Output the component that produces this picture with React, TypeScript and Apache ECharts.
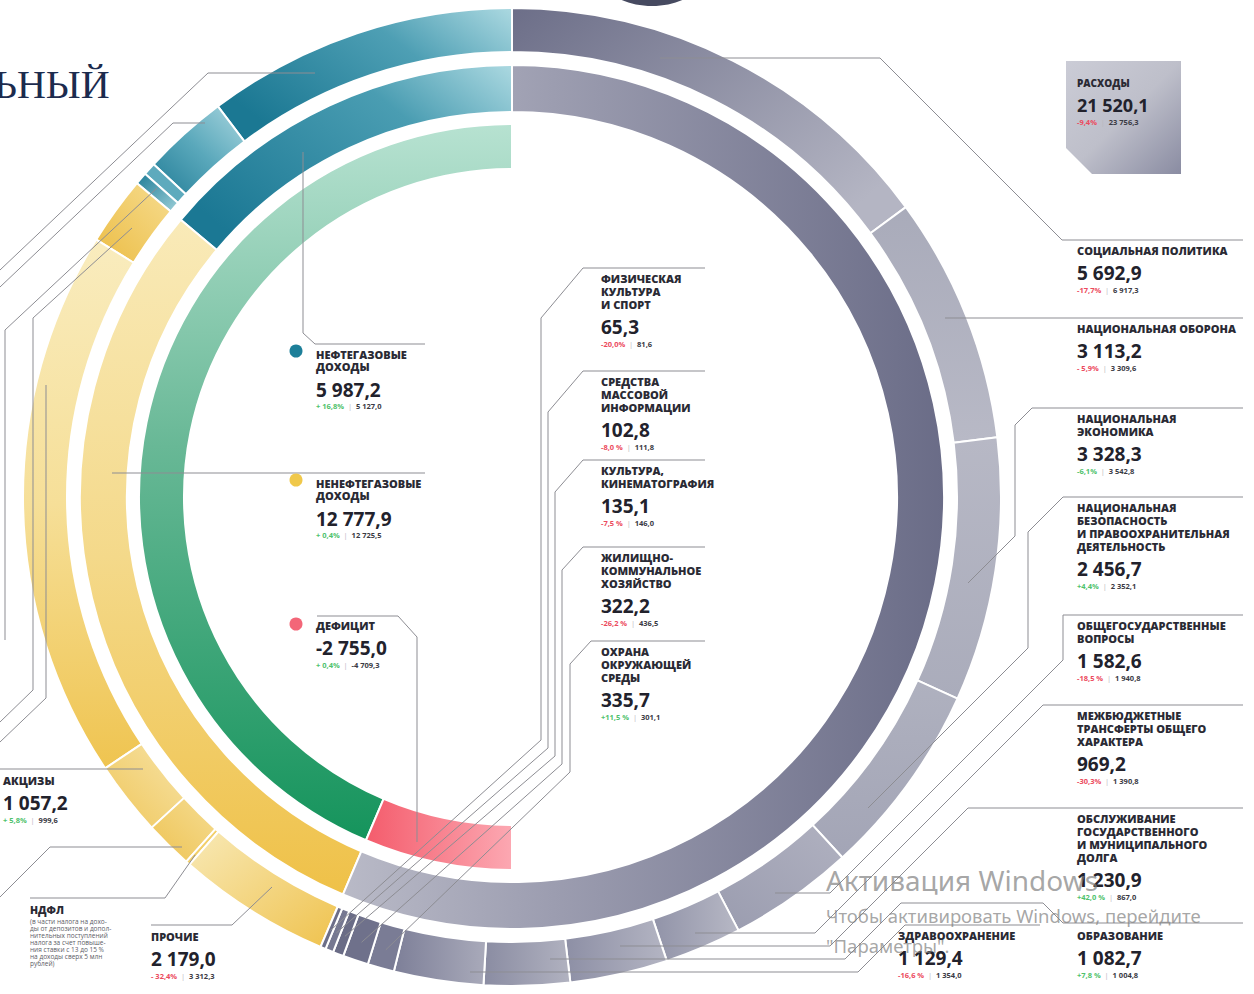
import React, { useEffect, useRef } from 'react';
import * as echarts from 'echarts';

// ---------------- DATA ----------------
const revenueNames = ['Нефтегазовые доходы', 'Ненефтегазовые доходы'];
const revenueValues = [5987.2, 12777.9];
const revenueChange = ['+ 16,8%', '+ 0,4%'];
const revenuePrev = ['5 127,0', '12 725,5'];

const deficitName = 'Дефицит';
const deficitValue = 2755.0;
const deficitChange = '+ 0,4%';
const deficitPrev = '-4 709,3';

const expensesName = 'Расходы';
const expensesTotal = 21520.1;
const expensesChange = '-9,4%';
const expensesPrev = '23 756,3';

// oil & gas revenue sub-items (outer ring)
const oilGasPartNames = ['Нефтегазовые 1', 'Нефтегазовые 2', 'Нефтегазовые 3', 'Нефтегазовые 4'];
const oilGasPartValues = [4420, 1215, 180, 172.2];

// non-oil revenue sub-items (outer ring)
const nonOilPartNames = ['Ненефтегазовые 1', 'Ненефтегазовые 2', 'Акцизы', 'Ненефтегазовые 4', 'НДФЛ', 'Прочие'];
const nonOilPartValues = [975, 7826.7, 1057.2, 680, 60.0, 2179.0];
const nonOilPartChange = ['', '', '+ 5,8%', '', '', '- 32,4%'];
const nonOilPartPrev = ['', '', '999,6', '', '', '3 312,3'];

const expenseNames = [
  'Социальная политика',
  'Национальная оборона',
  'Национальная экономика',
  'Национальная безопасность и правоохранительная деятельность',
  'Общегосударственные вопросы',
  'Межбюджетные трансферты общего характера',
  'Обслуживание государственного и муниципального долга',
  'Образование',
  'Здравоохранение',
  'Охрана окружающей среды',
  'Жилищно-коммунальное хозяйство',
  'Культура, кинематография',
  'Средства массовой информации',
  'Физическая культура и спорт',
];
const expenseValues = [5692.9, 3113.2, 3328.3, 2456.7, 1582.6, 969.2, 1230.9, 1082.7, 1129.4, 335.7, 322.2, 135.1, 102.8, 65.3];
const expenseChange = ['-17,7%', '- 5,9%', '-6,1%', '+4,4%', '-18,5 %', '-30,3%', '+42,0 %', '+7,8 %', '-16,6 %', '+11,5 %', '-26,2 %', '-7,5 %', '-8,0 %', '-20,0%'];
const expensePrev = ['6 917,3', '3 309,6', '3 542,8', '2 352,1', '1 940,8', '1 390,8', '867,0', '1 004,8', '1 354,0', '301,1', '436,5', '146,0', '111,8', '81,6'];

// ---------------- LAYOUT / STYLE ----------------
const CX = 512;
const CY = 497;
const R_IN = [328, 373];
const R_MID = [385, 432];
const R_OUT = [445, 489];
const FONT = '"Open Sans", "Noto Sans", Lato, sans-serif';
const RED = '#ec4a5d';
const GREEN = '#4fc26c';
const LINE = '#8d8d93';
const TITLE = '#2a2a34';
const greenOverride = new Set(['Национальная экономика']);

const sum = (a: number[]) => a.reduce((s, v) => s + v, 0);
const fmt = (v: number) => {
  const neg = v < 0;
  const [i, d] = Math.abs(v).toFixed(1).split('.');
  return (neg ? '-' : '') + i.replace(/\B(?=(\d{3})+(?!\d))/g, ' ') + ',' + d;
};
const grad = (x: number, y: number, x2: number, y2: number, stops: [number, string][]) =>
  new echarts.graphic.LinearGradient(x, y, x2, y2, stops.map(([offset, color]) => ({ offset, color })));

const revTotal = sum(revenueValues);
const revSpan = (180 * revTotal) / expensesTotal; // degrees used by revenues
const expSpan = 360 - revSpan;

function expAnchor(i: number, r: number, frac = 0.5): number[] {
  const tot = sum(expenseValues);
  const cum = sum(expenseValues.slice(0, i)) + frac * expenseValues[i];
  const a = ((cum / tot) * expSpan * Math.PI) / 180;
  return [CX + r * Math.sin(a), CY - r * Math.cos(a)];
}
function revOuterAnchor(i: number, r: number, frac = 0.5): number[] {
  const vals = [...oilGasPartValues, ...nonOilPartValues];
  const tot = sum(vals);
  const cum = sum(vals.slice(0, i)) + frac * vals[i];
  const a = ((cum / tot) * revSpan * Math.PI) / 180;
  return [CX - r * Math.sin(a), CY - r * Math.cos(a)];
}

function buildOption() {
  const pieBase: any = {
    type: 'pie',
    center: [CX, CY],
    silent: true,
    label: { show: false },
    labelLine: { show: false },
    emphasis: { disabled: true },
    avoidLabelOverlap: false,
    minAngle: 0,
    animation: false,
  };

  const tealMid = grad(1, 0, 0, 0.7, [[0, '#acd9e1'], [0.35, '#4a9db2'], [1, '#1b7894']]);
  const yellowMid = grad(0, 0, 0, 1, [[0, '#f9eab8'], [0.5, '#f4d98a'], [1, '#efc148']]);
  const greyMid = grad(0, 0, 1, 0, [[0, '#b9bac7'], [0.35, '#9c9db0'], [1, '#6a6c87']]);
  const greenIn = grad(0, 0, 0, 1, [[0, '#b7e2d1'], [0.45, '#68b896'], [1, '#15945c']]);
  const pinkIn = grad(1, 0, 0, 0, [[0, '#fca8b2'], [1, '#f45c6c']]);

  const oilColors = [
    grad(1, 0, 0, 0.6, [[0, '#acd9e1'], [0.4, '#4e9fb4'], [1, '#1b7893']]),
    grad(1, 0, 0, 1, [[0, '#a9d6df'], [0.5, '#5aa8bb'], [1, '#227d97']]),
    '#5eaabd',
    grad(0, 0, 1, 1, [[0, '#1e7c97'], [1, '#9ccfd8']]),
  ];
  const nonOilColors = [
    grad(1, 0, 0, 1, [[0, '#f6dc8f'], [1, '#ecbd45']]),
    grad(0, 0, 0, 1, [[0, '#f9ecbe'], [0.5, '#f6df98'], [1, '#efc450']]),
    grad(1, 0, 0, 1, [[0, '#f7e3a6'], [1, '#efc65a']]),
    grad(1, 0, 0, 1, [[0, '#f5dc92'], [1, '#eec353']]),
    '#f2cf6a',
    grad(0, 0, 1, 1, [[0, '#f8e9b6'], [1, '#efc24d']]),
  ];
  const expColors: any[] = [
    grad(0, 0, 1, 0.7, [[0, '#6c6e88'], [1, '#b4b5c3']]),
    grad(0, 0, 0, 1, [[0, '#a9abba'], [1, '#b8b9c6']]),
    grad(0, 0, 0, 1, [[0, '#b7b8c5'], [1, '#aaacbb']]),
    grad(0, 0, 0, 1, [[0, '#afb1bf'], [1, '#a3a5b6']]),
    grad(1, 0, 0, 1, [[0, '#b0b1c0'], [1, '#9a9caf']]),
    grad(0, 0, 1, 0, [[0, '#9193a8'], [1, '#b7b8c5']]),
    grad(0, 0, 1, 0, [[0, '#8d8fa5'], [1, '#b4b5c3']]),
    grad(0, 0, 1, 0, [[0, '#8a8ca2'], [1, '#b1b2c0']]),
    grad(0, 0, 1, 0, [[0, '#7d7f98'], [1, '#a9aaba']]),
    '#7a7c95',
    '#6f718b',
    '#6a6c86',
    '#767891',
    '#6c6e88',
  ];

  const series: any[] = [
    {
      ...pieBase,
      name: 'inner',
      radius: R_IN,
      startAngle: 90,
      endAngle: 270,
      clockwise: false,
      itemStyle: { borderColor: '#fff', borderWidth: 2 },
      data: [
        { name: 'Доходы', value: revTotal, itemStyle: { color: greenIn } },
        { name: deficitName, value: deficitValue, itemStyle: { color: pinkIn } },
      ],
    },
    {
      ...pieBase,
      name: 'midRev',
      radius: R_MID,
      startAngle: 90,
      endAngle: 90 + revSpan,
      clockwise: false,
      itemStyle: { borderColor: '#fff', borderWidth: 2 },
      data: revenueNames.map((n, i) => ({ name: n, value: revenueValues[i], itemStyle: { color: i === 0 ? tealMid : yellowMid } })),
    },
    {
      ...pieBase,
      name: 'midExp',
      radius: R_MID,
      startAngle: 90,
      endAngle: 90 + revSpan - 360,
      clockwise: true,
      itemStyle: { borderColor: '#fff', borderWidth: 2 },
      data: [{ name: expensesName, value: expensesTotal, itemStyle: { color: greyMid } }],
    },
    {
      ...pieBase,
      name: 'outRev',
      radius: R_OUT,
      startAngle: 90,
      endAngle: 90 + revSpan,
      clockwise: false,
      itemStyle: { borderColor: '#fff', borderWidth: 2 },
      data: [
        ...oilGasPartNames.map((n, i) => ({ name: n, value: oilGasPartValues[i], itemStyle: { color: oilColors[i] } })),
        ...nonOilPartNames.map((n, i) => ({ name: n, value: nonOilPartValues[i], itemStyle: { color: nonOilColors[i] } })),
      ],
    },
    {
      ...pieBase,
      name: 'outExp',
      radius: R_OUT,
      startAngle: 90,
      endAngle: 90 + revSpan - 360,
      clockwise: true,
      itemStyle: { borderColor: '#fff', borderWidth: 2 },
      data: expenseNames.map((n, i) => ({ name: n, value: expenseValues[i], itemStyle: { color: expColors[i] } })),
    },
  ];

  const g: any[] = [];
  const line = (pts: number[][]) =>
    g.push({ type: 'polyline', z: 100, silent: true, shape: { points: pts }, style: { stroke: LINE, lineWidth: 1, fill: null } });
  const text = (x: number, y: number, t: string, size: number, weight: any, fill: string, family = FONT) =>
    g.push({ type: 'text', z: 101, silent: true, x, y, style: { text: t, fontSize: size, fontWeight: weight, fontFamily: family, fill, align: 'left', verticalAlign: 'middle' } });
  const sub = (x: number, y: number, change: string, prev: string, color: string) =>
    g.push({
      type: 'text', z: 101, silent: true, x, y,
      style: {
        text: `{c|${change}}{s|  |  }{p|${prev}}`,
        verticalAlign: 'middle', align: 'left',
        rich: {
          c: { fill: color, fontSize: 7.5, fontWeight: 700, fontFamily: FONT },
          s: { fill: '#b8b8be', fontSize: 7.5, fontWeight: 400, fontFamily: FONT },
          p: { fill: '#3a3a44', fontSize: 7.5, fontWeight: 700, fontFamily: FONT },
        },
      },
    });
  const label = (x: number, titleY: number, lines: string[], value: number, change: string, prev: string, color: string, step = 13) => {
    lines.forEach((l, k) => text(x, titleY + k * step, l, 11, 800, TITLE));
    const vy = titleY + (lines.length - 1) * step + 23;
    text(x, vy, fmt(value), 19, 700, '#22222c');
    sub(x, vy + 16.5, change, prev, color);
  };
  const chColor = (name: string, ch: string) => (greenOverride.has(name) || ch.trim().startsWith('+') ? GREEN : RED);

  // decorative dark shape at the top edge and title fragment
  g.push({ type: 'ellipse', z: 1, silent: true, shape: { cx: 652, cy: -26, rx: 52, ry: 32 }, style: { fill: '#464a60' } });
  text(-6, 84, 'ЬНЫЙ', 40, 400, '#1c2b4e', '"Liberation Serif", "DejaVu Serif", serif');

  // ---- expenses box ----
  g.push({
    type: 'polygon', z: 5, silent: true,
    shape: { points: [[1066, 61], [1181, 61], [1181, 174], [1092, 174], [1066, 148]] },
    style: { fill: grad(0, 0, 1, 1, [[0, '#cbccd6'], [0.5, '#bebfca'], [1, '#8a8ca2']]) },
  });
  text(1077, 83, 'РАСХОДЫ', 10, 800, TITLE);
  text(1077, 105, fmt(expensesTotal), 18, 700, '#22222c');
  sub(1077, 122, expensesChange, expensesPrev, RED);

  // ---- right column expense labels ----
  const rightLayout: { x: number; lineY: number; lines: string[] }[] = [
    { x: 1077, lineY: 240, lines: ['СОЦИАЛЬНАЯ ПОЛИТИКА'] },
    { x: 1077, lineY: 318, lines: ['НАЦИОНАЛЬНАЯ ОБОРОНА'] },
    { x: 1077, lineY: 408, lines: ['НАЦИОНАЛЬНАЯ', 'ЭКОНОМИКА'] },
    { x: 1077, lineY: 497, lines: ['НАЦИОНАЛЬНАЯ', 'БЕЗОПАСНОСТЬ', 'И ПРАВООХРАНИТЕЛЬНАЯ', 'ДЕЯТЕЛЬНОСТЬ'] },
    { x: 1077, lineY: 615, lines: ['ОБЩЕГОСУДАРСТВЕННЫЕ', 'ВОПРОСЫ'] },
    { x: 1077, lineY: 705, lines: ['МЕЖБЮДЖЕТНЫЕ', 'ТРАНСФЕРТЫ ОБЩЕГО', 'ХАРАКТЕРА'] },
    { x: 1077, lineY: 808, lines: ['ОБСЛУЖИВАНИЕ', 'ГОСУДАРСТВЕННОГО', 'И МУНИЦИПАЛЬНОГО', 'ДОЛГА'] },
    { x: 1077, lineY: 925, lines: ['ОБРАЗОВАНИЕ'] },
    { x: 898, lineY: 925, lines: ['ЗДРАВООХРАНЕНИЕ'] },
    { x: 601, lineY: 641, lines: ['ОХРАНА', 'ОКРУЖАЮЩЕЙ', 'СРЕДЫ'] },
    { x: 601, lineY: 547, lines: ['ЖИЛИЩНО-', 'КОММУНАЛЬНОЕ', 'ХОЗЯЙСТВО'] },
    { x: 601, lineY: 460, lines: ['КУЛЬТУРА,', 'КИНЕМАТОГРАФИЯ'] },
    { x: 601, lineY: 371, lines: ['СРЕДСТВА', 'МАССОВОЙ', 'ИНФОРМАЦИИ'] },
    { x: 601, lineY: 268, lines: ['ФИЗИЧЕСКАЯ', 'КУЛЬТУРА', 'И СПОРТ'] },
  ];
  rightLayout.forEach((L, i) =>
    label(L.x, L.lineY + 10, L.lines, expenseValues[i], expenseChange[i], expensePrev[i], chColor(expenseNames[i], expenseChange[i]))
  );

  // right leader lines
  line([[660, 58], [880, 58], [1062, 240], [1243, 240]]);
  line([[945, 318], [1243, 318]]);
  line([[968, 583], [1015, 536], [1015, 425], [1032, 408], [1243, 408]]);
  line([[868, 808], [1028, 648], [1028, 532], [1063, 497], [1243, 497]]);
  line([[775, 893], [830, 893], [1045, 678], [1063, 660], [1063, 615], [1243, 615]]);
  line([[695, 933], [815, 933], [1043, 705], [1243, 705]]);
  line([[620, 946], [830, 946], [968, 808], [1243, 808]]);
  line([[550, 959], [845, 959], [901, 903], [1043, 903], [1063, 923], [1243, 923]]);
  line([[470, 972], [858, 972], [905, 925], [1040, 925]]);

  // middle column leader lines (to the small slivers)
  const midRoutes: number[][][] = [
    [[705, 641], [591, 641], [570, 664], [570, 772]],
    [[705, 547], [583, 547], [562, 570], [562, 764]],
    [[705, 460], [583, 460], [555, 492], [555, 756]],
    [[705, 371], [583, 371], [548, 412], [548, 748]],
    [[705, 268], [583, 268], [541, 318], [541, 740]],
  ];
  midRoutes.forEach((route, k) => line([...route, expAnchor(9 + k, 470)]));

  // ---- revenue labels ----
  const dotColors = ['#1d7f99', '#f0c84a', '#f36678'];
  const revLayout = [
    { lineY: 344, lines: ['НЕФТЕГАЗОВЫЕ', 'ДОХОДЫ'] },
    { lineY: 473, lines: ['НЕНЕФТЕГАЗОВЫЕ', 'ДОХОДЫ'] },
  ];
  revLayout.forEach((L, i) => {
    g.push({ type: 'circle', z: 101, silent: true, shape: { cx: 296, cy: L.lineY + 7, r: 6.5 }, style: { fill: dotColors[i] } });
    label(316, L.lineY + 10, L.lines, revenueValues[i], revenueChange[i], revenuePrev[i], chColor(revenueNames[i], revenueChange[i]), 12.5);
  });
  g.push({ type: 'circle', z: 101, silent: true, shape: { cx: 296, cy: 624, r: 6.5 }, style: { fill: dotColors[2] } });
  label(316, 625, ['ДЕФИЦИТ'], -deficitValue, deficitChange, deficitPrev, GREEN);

  line([[303, 152], [303, 333], [315, 344], [425, 344]]);
  line([[112, 473], [425, 473]]);
  line([[317, 616], [398, 616], [417, 637], [417, 842]]);

  // ---- non-oil sub-item labels (bottom left) ----
  label(3, 780, ['АКЦИЗЫ'], nonOilPartValues[2], nonOilPartChange[2], nonOilPartPrev[2], GREEN);
  label(151, 936, ['ПРОЧИЕ'], nonOilPartValues[5], nonOilPartChange[5], nonOilPartPrev[5], RED);
  text(30, 910, 'НДФЛ', 10.5, 800, TITLE);
  const ndflNote = [
    '(в части налога на дохо-',
    'ды от депозитов и допол-',
    'нительных поступлений',
    'налога за счет повыше-',
    'ния ставки с 13 до 15 %',
    'на доходы сверх 5 млн',
    'рублей)',
  ];
  ndflNote.forEach((t, k) => text(30, 921 + k * 7, t, 6.5, 400, '#5c5c66'));
  text(30, 1003, fmt(nonOilPartValues[4]), 19, 700, '#22222c');

  // left leader lines
  line([[315, 73], [208, 73], [0, 270]]);
  line([[205, 123], [173, 123], [0, 287]]);
  line([[157, 188], [5, 330], [5, 640]]);
  line([[132, 228], [33, 318], [33, 690], [0, 722]]);
  line([[46, 385], [46, 698], [0, 742]]);
  line([[143, 769], [0, 769]]);
  line([[182, 847], [50, 847], [0, 897]]);
  line([[30, 898], [165, 898], revOuterAnchor(8, 478)]);
  line([[151, 925], [232, 925], [272, 887]]);

  // ---- OS watermark visible on the reference ----
  const wm = 'rgba(128,128,128,0.7)';
  g.push({ type: 'text', z: 120, silent: true, x: 826, y: 880, style: { text: 'Активация Windows', fontSize: 28, fontFamily: '"Noto Sans", sans-serif', fill: wm, verticalAlign: 'middle' } });
  g.push({ type: 'text', z: 120, silent: true, x: 826, y: 915, style: { text: 'Чтобы активировать Windows, перейдите', fontSize: 18.5, fontFamily: '"Noto Sans", sans-serif', fill: wm, verticalAlign: 'middle' } });
  g.push({ type: 'text', z: 120, silent: true, x: 826, y: 945, style: { text: '"Параметры".', fontSize: 18.5, fontFamily: '"Noto Sans", sans-serif', fill: wm, verticalAlign: 'middle' } });

  return {
    animation: false,
    backgroundColor: '#ffffff',
    series,
    graphic: { elements: g },
  };
}

export default function App() {
  const ref = useRef<HTMLDivElement>(null);
  useEffect(() => {
    if (!ref.current) return;
    const chart = echarts.init(ref.current, null, { renderer: 'svg', width: 1254, height: 994 });
    chart.setOption(buildOption() as any);
    return () => chart.dispose();
  }, []);
  return <div ref={ref} style={{ position: 'absolute', left: 0, top: 0, width: 1254, height: 994, background: '#fff' }} />;
}
